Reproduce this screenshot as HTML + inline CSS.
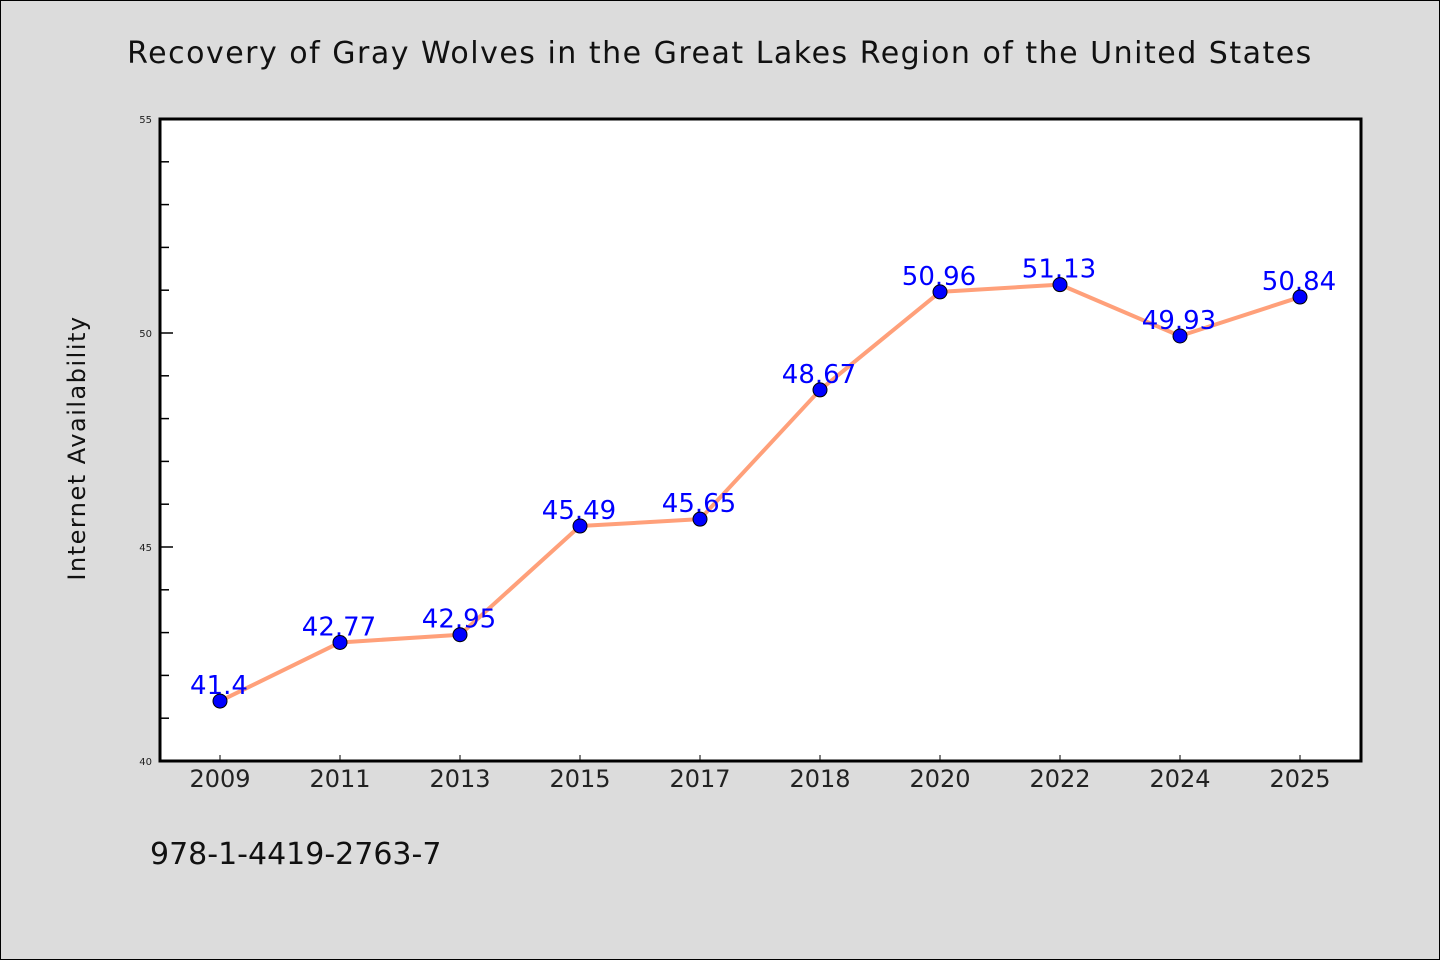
<!DOCTYPE html>
<html><head><meta charset="utf-8"><style>
html,body{margin:0;padding:0;background:#dcdcdc}
svg{display:block}
text{font-family:"WenQuanYi Zen Hei","DejaVu Sans",sans-serif}
</style></head><body>
<svg id="chart" width="1440" height="960" viewBox="0 0 1440 960">
<rect x="0.5" y="0.5" width="1439" height="959" fill="#dcdcdc" stroke="#000"/>
<text x="720" y="63" text-anchor="middle" font-size="30" fill="#111" letter-spacing="1.5">Recovery of Gray Wolves in the Great Lakes Region of the United States</text>
<rect x="160" y="119" width="1201" height="642" fill="#fff"/>
<g id="axes"></g>
<g id="series"></g>
<rect x="160" y="119" width="1201" height="642" fill="none" stroke="#000" stroke-width="3"/>
<text transform="translate(85,448) rotate(-90)" text-anchor="middle" font-size="24" fill="#111" letter-spacing="1.5">Internet Availability</text>
<text x="150" y="864" font-size="30" fill="#111">978-1-4419-2763-7</text>
</svg>
<script>
const categories=["2009","2011","2013","2015","2017","2018","2020","2022","2024","2025"];
const values=[41.4,42.77,42.95,45.49,45.65,48.67,50.96,51.13,49.93,50.84];
const labels=["41.4","42.77","42.95","45.49","45.65","48.67","50.96","51.13","49.93","50.84"];
const yTicks=[40,45,50,55];
const NS="http://www.w3.org/2000/svg";
const L=160,R=1361,T=119,B=761,yMin=40,yMax=55;
const step=(R-L-1)/categories.length;
function xs(i){return L+step/2+i*step;}
function ys(v){return B-(v-yMin)/(yMax-yMin)*(B-T);}
function mk(tag,attrs,parent){const e=document.createElementNS(NS,tag);for(const k in attrs)e.setAttribute(k,attrs[k]);parent.appendChild(e);return e;}
const ax=document.getElementById('axes'),se=document.getElementById('series');
for(let v=yMin;v<=yMax;v++){
  const major=yTicks.includes(v);
  const t=mk('line',{x1:L,x2:L+(major?13:9),y1:ys(v),y2:ys(v),stroke:'#000','stroke-width':1.5},ax);
  
  
}
yTicks.forEach(v=>{
  const t=mk('text',{x:152,y:ys(v)+4,'text-anchor':'end','font-size':10,fill:'#222'},ax);
  t.textContent=v;
  
  
});
categories.forEach((c,i)=>{
  const tk=mk('line',{x1:xs(i),x2:xs(i),y1:B,y2:B-6,stroke:'#000','stroke-width':1},ax);
  
  
  const t=mk('text',{x:xs(i),y:B+26,'text-anchor':'middle','font-size':24,fill:'#222'},ax);
  t.textContent=c;
  
  
});
const pts=values.map((v,i)=>xs(i)+','+ys(v)).join(' ');
const line=mk('polyline',{points:pts,fill:'none',stroke:'#ffa07a','stroke-width':4,'stroke-linejoin':'round'},se);


values.forEach((v,i)=>{
  const t=mk('text',{x:xs(i)-1,y:ys(v)-7,'text-anchor':'middle','font-size':26,fill:'#0000ff'},se);
  t.textContent=labels[i];
  
  
});
values.forEach((v,i)=>{
  const c=mk('circle',{cx:xs(i),cy:ys(v),r:7,fill:'#0000ff',stroke:'#000','stroke-width':1},se);
  
  
});
</script>
</body></html>
